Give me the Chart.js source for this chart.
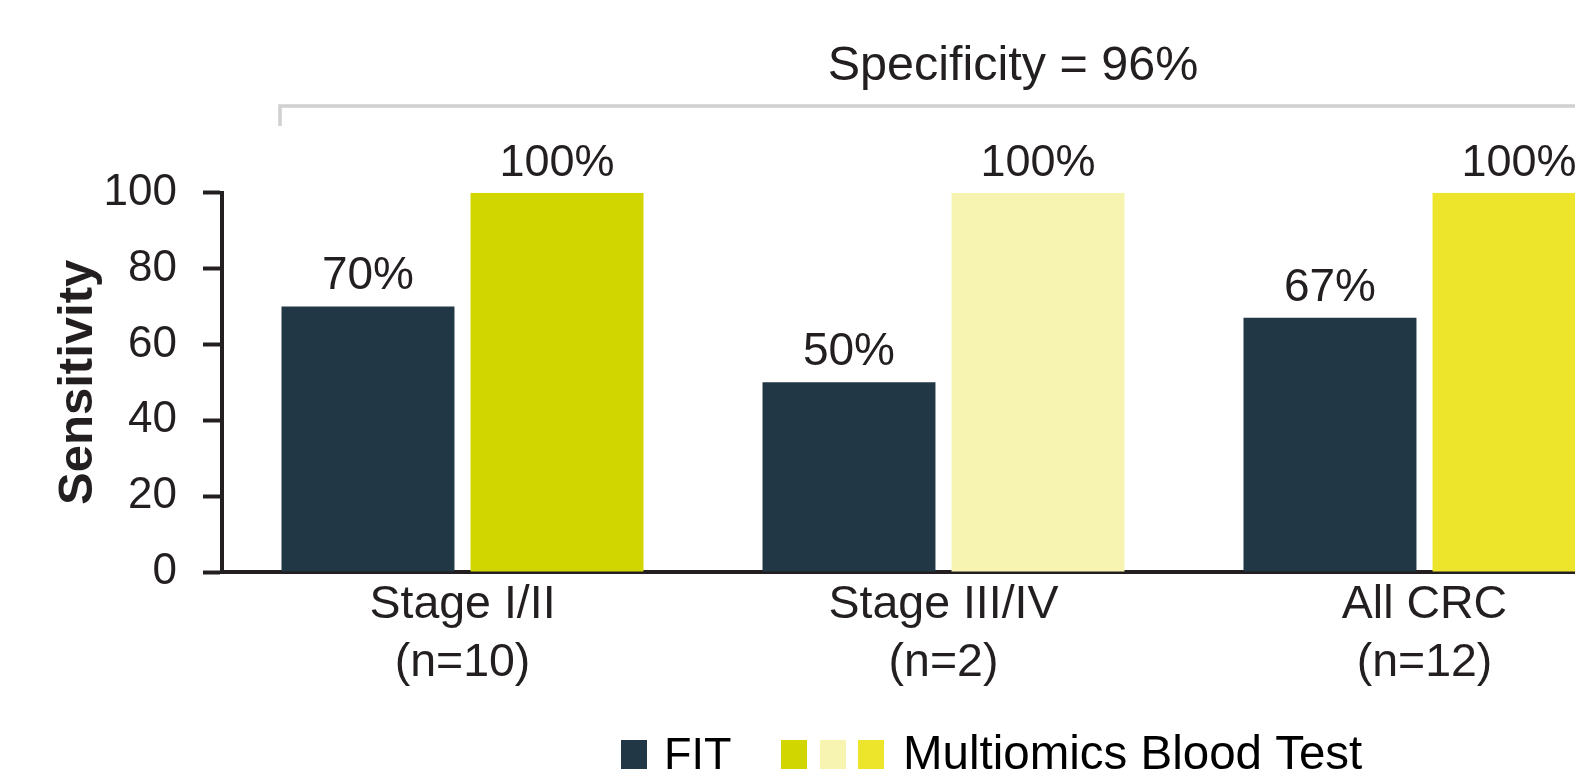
<!DOCTYPE html>
<html>
<head>
<meta charset="utf-8">
<title>Sensitivity</title>
<script src="https://cdn.jsdelivr.net/npm/chart.js@4.4.1/dist/chart.umd.min.js"></script>
<style>
  html, body { margin: 0; padding: 0; background: #fff; overflow: hidden; }
  canvas { display: block; }
</style>
</head>
<body>
<canvas id="sensChart" width="1700" height="779"></canvas>
<script>
// data
const categories = [["Stage I/II", "(n=10)"], ["Stage III/IV", "(n=2)"], ["All CRC", "(n=12)"]];
const fitValues = [70, 50, 67];
const bloodValues = [100, 100, 100];
const yTicks = [0, 20, 40, 60, 80, 100];
const seriesNames = ["FIT", "Multiomics Blood Test"];
const specificityText = "Specificity = 96%";

const fitColor = "#213745";
const bloodColors = ["#d1d500", "#f7f4b2", "#ede52b"];
const textColor = "#231f20";
const fontFamily = "'Liberation Sans', Arial, sans-serif";

// value labels above the bars
const valueLabels = {
  id: "valueLabels",
  afterDatasetsDraw(chart) {
    const ctx = chart.ctx;
    ctx.save();
    ctx.fillStyle = textColor;
    ctx.textAlign = "center";
    ctx.textBaseline = "alphabetic";
    chart.data.datasets.forEach((ds, i) => {
      chart.getDatasetMeta(i).data.forEach((bar, j) => {
        ctx.font = (ds.data[j] >= 100 ? "45px " : "46px ") + fontFamily;
        ctx.fillText(ds.data[j] + "%", bar.x, bar.y - 17);
      });
    });
    ctx.restore();
  }
};

// specificity bracket and the custom legend
const extras = {
  id: "extras",
  afterDraw(chart) {
    const ctx = chart.ctx;
    ctx.save();

    // bracket
    ctx.strokeStyle = "#d0d0d0";
    ctx.lineWidth = 3.5;
    ctx.beginPath();
    ctx.moveTo(280, 126);
    ctx.lineTo(280, 106);
    ctx.lineTo(chart.width, 106);
    ctx.stroke();

    ctx.fillStyle = textColor;
    ctx.font = "48.5px " + fontFamily;
    ctx.textAlign = "center";
    ctx.textBaseline = "alphabetic";
    ctx.fillText(specificityText, 1013, 80);

    // legend
    ctx.fillStyle = fitColor;
    ctx.fillRect(621, 740, 26, 29);
    const boxX = [781, 820, 858];
    bloodColors.forEach((c, i) => {
      ctx.fillStyle = c;
      ctx.fillRect(boxX[i], 740, 26, 29);
    });
    ctx.fillStyle = "#000";
    ctx.textAlign = "left";
    ctx.font = "45px " + fontFamily;
    ctx.fillText(seriesNames[0], 664, 769);
    ctx.font = "47.5px " + fontFamily;
    ctx.fillText(seriesNames[1], 903, 769);

    ctx.restore();
  }
};

const ctx = document.getElementById("sensChart").getContext("2d");
const chart = new Chart(ctx, {
  type: "bar",
  data: {
    labels: categories,
    datasets: [
      {
        label: seriesNames[0],
        data: fitValues,
        backgroundColor: fitColor,
        categoryPercentage: 0.786,
        barPercentage: 0.915,
      },
      {
        label: seriesNames[1],
        data: bloodValues,
        backgroundColor: bloodColors,
        categoryPercentage: 0.786,
        barPercentage: 0.915,
      },
    ],
  },
  options: {
    responsive: false,
    animation: false,
    devicePixelRatio: 1,
    layout: { padding: { top: 192.7, right: 35, bottom: 0, left: 0 } },
    plugins: {
      legend: { display: false },
      tooltip: { enabled: false },
    },
    scales: {
      x: {
        grid: { display: false, drawTicks: false },
        border: { display: true, color: textColor, width: 4 },
        ticks: {
          color: textColor,
          padding: 4.5,
          maxRotation: 0,
          autoSkip: false,
          font: { family: fontFamily, size: 46.5, lineHeight: "58px" },
        },
        afterFit(scale) { scale.height = 207; },
      },
      y: {
        min: 0,
        max: 100,
        afterBuildTicks(scale) { scale.ticks = yTicks.map((v) => ({ value: v })); },
        grid: {
          drawOnChartArea: false,
          drawTicks: true,
          tickLength: 19,
          tickWidth: 4,
          tickColor: textColor,
        },
        border: { display: true, color: textColor, width: 4 },
        ticks: {
          color: textColor,
          padding: 26,
          font: { family: fontFamily, size: 44 },
        },
        title: {
          display: true,
          text: "Sensitivity",
          color: textColor,
          padding: { top: 49, bottom: 0 },
          font: { family: fontFamily, size: 49, weight: "bold", lineHeight: 1.2 },
        },
        afterFit(scale) { scale.width = 222; },
      },
    },
  },
  plugins: [valueLabels, extras],
});
</script>
</body>
</html>
